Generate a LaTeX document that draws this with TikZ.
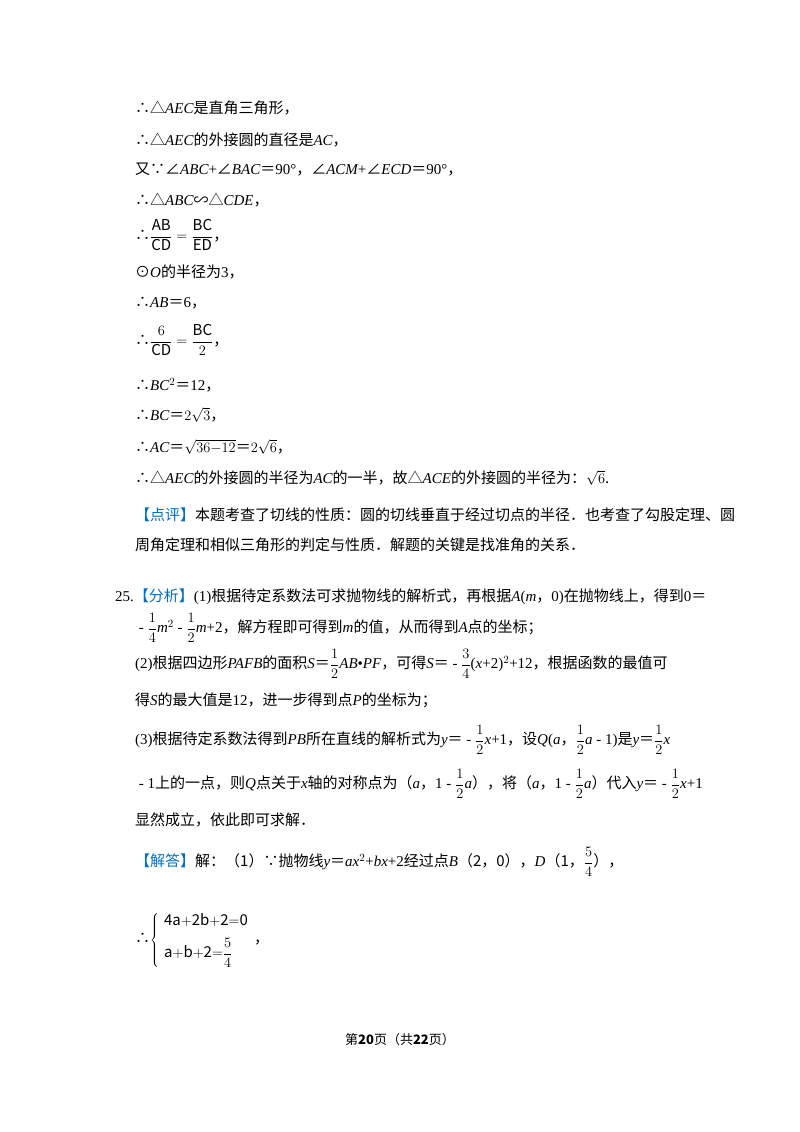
\documentclass[tikz,border=0pt]{standalone}
\usepackage{fontspec}
\setmainfont{Noto Sans CJK SC}
\newfontfamily\tm{Liberation Serif}
\newcommand{\iv}[1]{{\tm\itshape #1}}
\newcommand{\rr}[1]{{\tm #1}}
\newcommand{\fr}[2]{$\displaystyle\frac{#1}{#2}$}
\definecolor{hb}{RGB}{0,112,192}
\newcommand{\htag}[1]{\textcolor{hb}{#1}}
\begin{document}
\begin{tikzpicture}[x=1pt,y=-1pt,every node/.style={anchor=west,inner sep=0pt,font=\fontsize{15}{18}\selectfont}]
\useasboundingbox (0,0) rectangle (800,1132);
\node (l1) at (135,108) {∴△\iv{AEC}是直角三角形，};
\node (l2) at (135,140) {∴△\iv{AEC}的外接圆的直径是\iv{AC}，};
\node (l3) at (135,170) {又∵∠\iv{ABC}\rr{+}∠\iv{BAC}＝\rr{90°}，∠\iv{ACM}\rr{+}∠\iv{ECD}＝\rr{90°}，};
\node (l4) at (135,200) {∴△\iv{ABC}∽△\iv{CDE}，};
\node (l5) at (135,235) {∴$\displaystyle\frac{\mathrm{AB}}{\mathrm{CD}}=\frac{\mathrm{BC}}{\mathrm{ED}}$，};
\node (l6) at (135,272) {⊙\iv{O}的半径为\rr{3}，};
\node (l7) at (135,303) {∴\iv{AB}＝\rr{6}，};
\node (l8) at (135,340) {∴$\displaystyle\frac{6}{\mathrm{CD}}=\frac{\mathrm{BC}}{2}$，};
\node (l9) at (135,385) {∴\iv{BC}\rr{$^2$}＝\rr{12}，};
\node (l10) at (135,415) {∴\iv{BC}＝$2\sqrt{3}$，};
\node (l11) at (135,447) {∴\iv{AC}＝$\sqrt{36\mathrm{-}12}$＝$2\sqrt{6}$，};
\node (l12) at (135,478) {∴△\iv{AEC}的外接圆的半径为\iv{AC}的一半，故△\iv{ACE}的外接圆的半径为：$\sqrt{6}$.};
\node (l13) at (135,515) {\htag{【点评】}本题考查了切线的性质：圆的切线垂直于经过切点的半径．也考查了勾股定理、圆};
\node (l14) at (135,545) {周角定理和相似三角形的判定与性质．解题的关键是找准角的关系．};
\node (l15) at (115,597) {\rr{25.}\htag{【分析】}\rr{(1)}根据待定系数法可求抛物线的解析式，再根据\iv{A}\rr{(}\iv{m}，\rr{0)}在抛物线上，得到\rr{0}＝};
\node (l16) at (135,628) {\rr{ - }\fr{1}{4}\iv{m}\rr{$^2$ - }\fr{1}{2}\iv{m}\rr{+2}，解方程即可得到\iv{m}的值，从而得到\iv{A}点的坐标；};
\node (l17) at (135,664) {\rr{(2)}根据四边形\iv{PAFB}的面积\iv{S}＝\fr{1}{2}\iv{AB}\rr{•}\iv{PF}，可得\iv{S}＝\rr{ - }\fr{3}{4}\rr{(}\iv{x}\rr{+2)$^2$+12}，根据函数的最值可};
\node (l18) at (135,700) {得\iv{S}的最大值是\rr{12}，进一步得到点\iv{P}的坐标为；};
\node (l19) at (135,740) {\rr{(3)}根据待定系数法得到\iv{PB}所在直线的解析式为\iv{y}＝\rr{ - }\fr{1}{2}\iv{x}\rr{+1}，设\iv{Q}\rr{(}\iv{a}，\fr{1}{2}\iv{a}\rr{ - 1)}是\iv{y}＝\fr{1}{2}\iv{x}};
\node (l20) at (135,784) {\rr{ - 1}上的一点，则\iv{Q}点关于\iv{x}轴的对称点为（\iv{a}，\rr{1 - }\fr{1}{2}\iv{a}），将（\iv{a}，\rr{1 - }\fr{1}{2}\iv{a}）代入\iv{y}＝\rr{ - }\fr{1}{2}\iv{x}\rr{+1}};
\node (l21) at (135,820) {显然成立，依此即可求解．};
\node (l22) at (135,862) {\htag{【解答】}解：（1）∵抛物线\iv{y}＝\iv{ax}\rr{$^2$+}\iv{bx}\rr{+2}经过点\iv{B}（2，0），\iv{D}（1，\fr{5}{4}），};
\node (l23) at (135,940) {∴$\left\{\begin{array}{l}\mathrm{4a{+}2b{+}2{=}0}\\[8pt] \mathrm{a{+}b{+}2{=}}\displaystyle\frac{5}{4}\end{array}\right.$，};
\node[anchor=center,font=\fontsize{13}{16}\selectfont] (ft) at (400,1040) {第\textbf{20}页（共\textbf{22}页）};
\end{tikzpicture}
\end{document}
